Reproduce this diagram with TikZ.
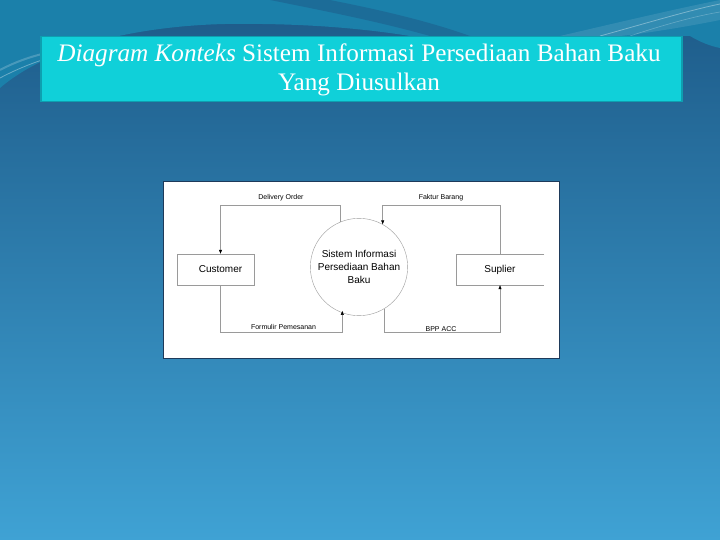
\documentclass[tikz,border=0pt]{standalone}
\usepackage{fontspec}
\setmainfont{Liberation Serif}
\newfontfamily\diafont{Liberation Sans}
\usetikzlibrary{arrows.meta,calc}
\definecolor{bgtop}{HTML}{1D5A88}
\definecolor{bgbot}{HTML}{3FA2D4}
\definecolor{bgteal}{HTML}{1B80AA}
\definecolor{titlefill}{HTML}{10D0D9}
\definecolor{titleedge}{HTML}{0E9FB0}
\definecolor{linegray}{HTML}{9A9A9A}
\definecolor{frameedge}{HTML}{1E3A5A}
\tikzset{
  flow/.style={draw=linegray, line width=0.5pt, -{Triangle[length=4pt,width=3pt,black]}},
  plain/.style={draw=linegray, line width=0.5pt},
  entity/.style={draw=linegray, line width=0.5pt, minimum width=77pt, minimum height=31pt},
  enttext/.style={font=\diafont\fontsize{10}{11}\selectfont, inner sep=0pt},
  proc/.style={draw=linegray, line width=0.4pt, circle, minimum size=96pt, align=center, font=\diafont\fontsize{10}{12.7}\selectfont},
  flowlabel/.style={font=\diafont\fontsize{7}{8}\selectfont, inner sep=0pt}
}
\begin{document}
\begin{tikzpicture}[x=1pt,y=-1pt]
\useasboundingbox (0,0) rectangle (720,540);
% background
\shade[top color=bgtop, bottom color=bgbot] (0,0) rectangle (720,540);
\fill[bgteal] (0,0) -- (0,88) .. controls (50,45) and (140,26) .. (225,24) .. controls (300,23) and (360,28) .. (410,36) -- (690,36) .. controls (700,42) and (710,46) .. (720,48) -- (720,0) -- cycle;
\fill[bgtop, opacity=0.5] (270,0) .. controls (330,12) and (380,22) .. (430,36) -- (470,36) .. controls (420,18) and (360,6) .. (330,0) -- cycle;
\draw[white, opacity=0.35, line width=0.8pt] (0,78) .. controls (15,70) and (30,64) .. (42,60);
\draw[white, opacity=0.20, line width=2pt] (0,70) .. controls (15,62) and (30,57) .. (42,54);
\draw[white, opacity=0.35, line width=0.8pt] (600,36) .. controls (640,25) and (690,10) .. (720,4);
\draw[white, opacity=0.25, line width=0.6pt] (630,36) .. controls (660,26) and (695,16) .. (720,12);
\fill[white, opacity=0.10] (560,36) .. controls (620,22) and (680,8) .. (720,0) -- (720,20) .. controls (680,28) and (640,34) .. (620,36) -- cycle;
% title
\node[draw=titleedge, line width=1.5pt, fill=titlefill, minimum width=641pt, minimum height=65pt, anchor=north west, inner sep=0pt] (title) at (40,36) {};
\node[text=white, align=center, font=\fontsize{25.2}{29}\selectfont, anchor=base] (titletext) at (359,91) {\textit{Diagram Konteks} Sistem Informasi Persediaan Bahan Baku\\Yang Diusulkan};
% diagram frame
\node[draw=frameedge, line width=0.8pt, fill=white, minimum width=396pt, minimum height=177pt, anchor=north west, inner sep=0pt] (frame) at (162.5,181) {};
% nodes
\node[entity] (cust) at (215.5,269.5) {};
\node[enttext] (custtext) at (220.5,269.5) {Customer};
\node[proc] (circ) at (359,267) {Sistem Informasi\\Persediaan Bahan\\Baku};
\node[inner sep=0pt, minimum width=88pt, minimum height=31pt] (supl) at (500,269.5) {};
\node[enttext] (supltext) at (500,269.5) {Suplier};
\draw[plain] (544,254) -- (456,254) -- (456,285) -- (544,285);
% coordinates
\coordinate (topy) at (0,205);
\coordinate (boty) at (0,332);
\coordinate (custx) at (220.5,0);
\coordinate (suplx) at (500,0);
% flows
\draw[flow] (circ.113) -- (circ.113 |- topy) -| (custx |- cust.north);
\draw[flow] (suplx |- supl.north) -- (suplx |- topy) -| (circ.61);
\draw[flow] (custx |- cust.south) -- (custx |- boty) -| ($(circ.250)+(0,-2)$);
\draw[flow] (circ.301) -- (circ.301 |- boty) -| (suplx |- supl.south);
% labels
\node[flowlabel] (lbl1) at (281,198) {Delivery Order};
\node[flowlabel] (lbl2) at (441,198) {Faktur Barang};
\node[flowlabel] (lbl3) at (283.5,327) {Formulir Pemesanan};
\node[flowlabel] (lbl4) at (441,329.5) {BPP ACC};
\end{tikzpicture}
\end{document}
